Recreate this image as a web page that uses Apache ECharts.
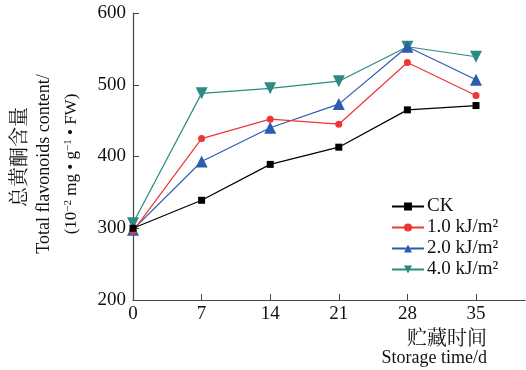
<!DOCTYPE html>
<html>
<head>
<meta charset="utf-8">
<script src="https://cdn.jsdelivr.net/npm/echarts@6/dist/echarts.min.js"></script>
<style>html,body{margin:0;padding:0;background:#fff;}#c{width:526px;height:370px;}</style>
</head>
<body>
<div id="c"></div>
<script>
const days = [0, 7, 14, 21, 28, 35];
const xTicks = [0, 7, 14, 21, 28, 35];
const seriesNames = ['CK', '1.0 kJ/m²', '2.0 kJ/m²', '4.0 kJ/m²'];
const ck = [300, 339, 389, 413, 465, 471];
const uv10 = [296, 425, 452, 445, 531, 485];
const uv20 = [298, 393, 440, 473, 553, 507];
const uv40 = [307, 488, 495, 505, 553, 539];
const colors = ['#000000', '#ef3535', '#2b5cb0', '#2c8a82'];
const symbols = ['rect', 'circle', 'triangle', 'triangle'];
const symbolSizes = [7, 7, 12, 12];
const symbolRotates = [0, 0, 0, 180];

const serif = '"Liberation Serif","Times New Roman",serif';
const cjk = '"Noto Serif CJK SC","Noto Sans CJK SC",serif';

const chart = echarts.init(document.getElementById('c'));
const all = [ck, uv10, uv20, uv40];
const series = all.map((vals, i) => ({
  name: seriesNames[i],
  type: 'line',
  data: days.map((d, j) => [d, vals[j]]),
  symbol: symbols[i],
  symbolSize: symbolSizes[i],
  symbolRotate: symbolRotates[i],
  showAllSymbol: true,
  lineStyle: { color: colors[i], width: 1.2 },
  itemStyle: { color: colors[i] },
  z: 10 - i
}));

chart.setOption({
  animation: false,
  backgroundColor: '#fff',
  grid: { left: 133, top: 13, right: 1, bottom: 70, containLabel: false },
  xAxis: {
    type: 'value', min: 0, max: 40,
    axisLine: { lineStyle: { color: '#444', width: 1.2 } },
    axisTick: { inside: true, length: 6, customValues: xTicks, lineStyle: { color: '#444' } },
    axisLabel: { customValues: xTicks, color: '#111', fontFamily: serif, fontSize: 19, margin: 5 },
    splitLine: { show: false }
  },
  yAxis: {
    type: 'value', min: 200, max: 600, interval: 100,
    axisLine: { show: true, lineStyle: { color: '#444', width: 1.2 } },
    axisTick: { show: true, inside: true, length: 6, lineStyle: { color: '#444' } },
    axisLabel: { color: '#111', fontFamily: serif, fontSize: 19, margin: 7 },
    splitLine: { show: false }
  },
  legend: {
    orient: 'vertical', left: 386, top: 192,
    itemWidth: 32, itemHeight: 10, itemGap: 2,
    data: seriesNames,
    textStyle: { fontFamily: serif, fontSize: 19, color: '#111', padding: [0, 0, 0, -2] }
  },
  graphic: [
    { type: 'text', x: 18, y: 157, rotation: Math.PI / 2,
      style: { text: '总黄酮含量', font: '20px ' + cjk, fill: '#111', textAlign: 'center', textVerticalAlign: 'middle' } },
    { type: 'text', x: 44, y: 164, rotation: Math.PI / 2,
      style: { text: 'Total flavonoids content/', font: '18px ' + serif, fill: '#111', textAlign: 'center', textVerticalAlign: 'middle' } },
    { type: 'text', x: 72, y: 164, rotation: Math.PI / 2,
      style: { text: '(10{sup|−2} mg • g{sup|−1} • FW)', font: '17px ' + serif, fill: '#111', textAlign: 'center', textVerticalAlign: 'middle',
        rich: { sup: { fontSize: 11, fontFamily: serif, verticalAlign: 'top', padding: [0, 0, 8, 0] } } } },
    { type: 'text', x: 487, y: 337,
      style: { text: '贮藏时间', font: '20px ' + cjk, fill: '#111', textAlign: 'right', textVerticalAlign: 'middle' } },
    { type: 'text', x: 487, y: 358,
      style: { text: 'Storage time/d', font: '18px ' + serif, fill: '#111', textAlign: 'right', textVerticalAlign: 'middle' } }
  ],
  series: series
});
</script>
</body>
</html>
